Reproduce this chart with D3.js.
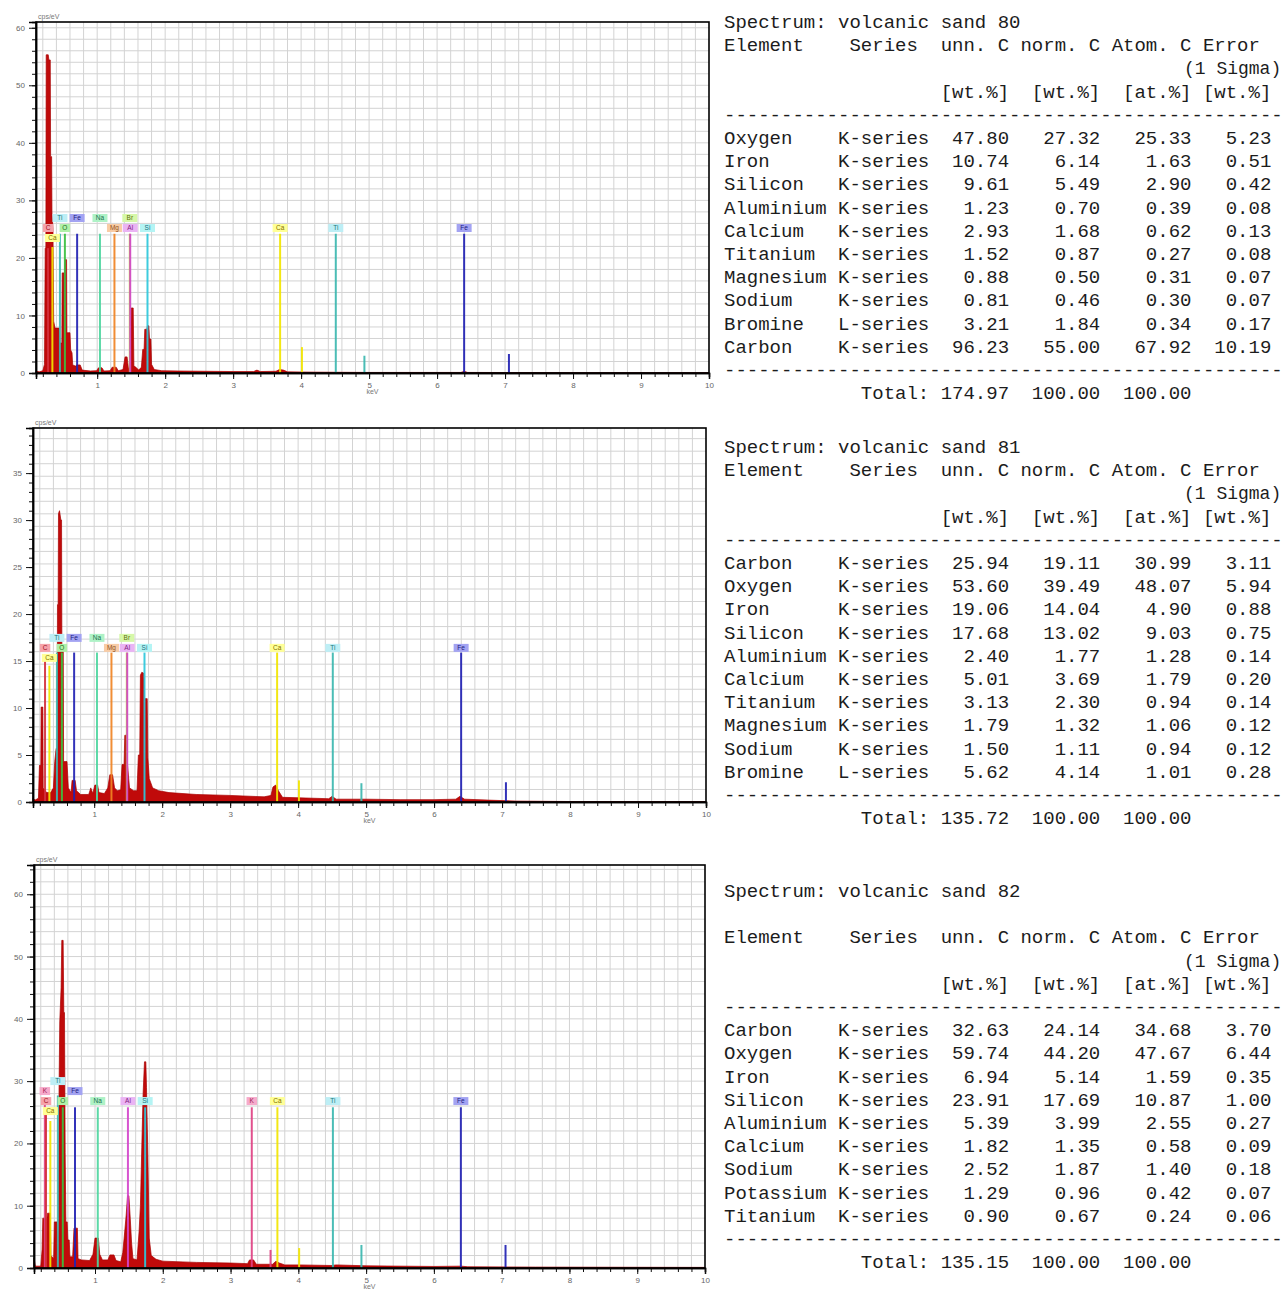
<!DOCTYPE html>
<html><head><meta charset="utf-8">
<script src="https://cdn.jsdelivr.net/npm/d3@7"></script>
<style>
body{margin:0;background:#fff;}
svg{display:block;}
.mono{font-family:"Courier New","Liberation Mono",monospace;font-size:19px;fill:#1c1c1c;white-space:pre;}
.ax text{font-family:"Liberation Sans",Arial,sans-serif;font-size:8px;fill:#666;}
</style></head>
<body>
<svg id="c" width="1286" height="1290"></svg>
<script>
// ---------------- DATA ----------------
const xTickLabels = [1,2,3,4,5,6,7,8,9,10];
const yTicks80 = [0,10,20,30,40,50,60];
const yTicks81 = [0,5,10,15,20,25,30,35];
const yTicks82 = [0,10,20,30,40,50,60];

// spectra: [keV, cps/eV]
const spectrum80 = [[0.10,0.3],[0.15,0.2],[0.20,0.4],[0.225,1.5],[0.235,21.7],[0.245,21.7],[0.25,55.3],[0.28,55.3],[0.29,54.4],[0.31,54.4],[0.315,37.6],[0.33,37.6],[0.335,27.8],[0.35,25],[0.36,9],[0.38,7.8],[0.44,7.8],[0.45,5.2],[0.48,5.2],[0.485,17.4],[0.52,17.4],[0.525,19.7],[0.55,19.7],[0.555,7.0],[0.60,7.0],[0.61,4.0],[0.63,3.5],[0.64,1.4],[0.68,1.2],[0.70,1.4],[0.75,1.4],[0.78,0.5],[0.90,0.35],[0.99,0.4],[1.02,0.9],[1.07,0.9],[1.10,0.35],[1.19,0.4],[1.22,1.0],[1.28,1.0],[1.31,0.4],[1.38,0.6],[1.41,2.8],[1.44,2.8],[1.46,0.8],[1.49,1.0],[1.50,11.3],[1.53,11.3],[1.54,1.2],[1.57,1.0],[1.61,0.5],[1.65,1.0],[1.67,4.1],[1.69,4.1],[1.70,7.6],[1.73,7.6],[1.74,8.2],[1.76,8.2],[1.77,5.9],[1.79,5.9],[1.80,1.5],[1.84,0.6],[1.95,0.4],[2.2,0.35],[2.6,0.3],[3.0,0.25],[3.30,0.25],[3.35,0.5],[3.40,0.25],[3.63,0.3],[3.68,0.6],[3.74,0.5],[3.80,0.2],[4.2,0.15],[5.0,0.1],[6.35,0.1],[6.40,0.3],[6.45,0.1],[8.0,0.05],[10.0,0.05]];
const spectrum81 = [[0.10,0.4],[0.13,0.2],[0.18,0.4],[0.195,3.9],[0.215,3.9],[0.22,10.1],[0.245,10.1],[0.25,1.5],[0.30,1.0],[0.36,1.0],[0.40,1.5],[0.42,4.3],[0.44,5.7],[0.455,5.7],[0.46,21],[0.47,21],[0.475,30.7],[0.49,31],[0.51,30],[0.52,30],[0.525,16.4],[0.545,16.4],[0.55,4.3],[0.60,4.3],[0.62,1.5],[0.66,1.0],[0.675,2.3],[0.72,2.3],[0.74,1.2],[0.80,0.8],[0.92,0.8],[0.95,1.5],[0.98,0.9],[1.01,1.8],[1.05,1.8],[1.07,1.0],[1.15,0.9],[1.20,1.5],[1.23,2.9],[1.27,2.9],[1.30,1.5],[1.34,1.2],[1.39,1.3],[1.41,4.0],[1.44,4.0],[1.45,7.1],[1.48,7.1],[1.49,4.0],[1.52,1.5],[1.58,1.2],[1.63,1.2],[1.65,5.0],[1.67,5.0],[1.68,13.5],[1.70,13.8],[1.73,13.7],[1.74,11],[1.78,11],[1.79,4.7],[1.81,2.5],[1.86,1.5],[1.95,1.2],[2.1,1.0],[2.5,0.8],[3.0,0.7],[3.5,0.55],[3.60,0.7],[3.63,1.6],[3.67,1.8],[3.71,1.2],[3.77,0.5],[4.0,0.45],[4.45,0.35],[4.50,0.6],[4.56,0.3],[5.0,0.3],[5.5,0.25],[6.0,0.25],[6.32,0.3],[6.38,0.6],[6.45,0.3],[6.8,0.2],[7.2,0.1],[8,0.05],[10,0.05]];
const spectrum82 = [[0.10,1.6],[0.12,0.3],[0.20,0.3],[0.22,3],[0.23,8],[0.29,8],[0.30,8.8],[0.34,8.8],[0.35,2.0],[0.39,1.5],[0.40,7.4],[0.44,7.4],[0.45,3.0],[0.46,7.4],[0.47,29],[0.48,39.5],[0.50,45],[0.51,52.6],[0.53,52.6],[0.54,41],[0.55,41],[0.56,18.5],[0.57,7.4],[0.59,7.4],[0.60,4.5],[0.62,4.5],[0.63,1.8],[0.67,1.8],[0.69,6.4],[0.74,6.4],[0.75,1.5],[0.80,1.3],[0.92,1.2],[0.97,2.2],[1.00,4.8],[1.05,4.8],[1.07,2.2],[1.11,1.3],[1.19,1.3],[1.22,2.1],[1.28,2.1],[1.31,1.2],[1.38,1.0],[1.41,2.5],[1.43,4.8],[1.46,8.5],[1.48,11.6],[1.50,11.6],[1.52,8],[1.54,4.0],[1.56,1.5],[1.62,1.3],[1.65,5.8],[1.67,10],[1.69,19.3],[1.71,28],[1.73,33.1],[1.75,33.1],[1.76,29],[1.78,18],[1.80,4.8],[1.83,2.0],[1.90,1.4],[2.0,1.1],[2.5,0.9],[3.0,0.8],[3.25,0.7],[3.28,1.3],[3.34,1.3],[3.38,0.6],[3.62,0.6],[3.67,1.1],[3.72,0.8],[3.80,0.5],[4.0,0.5],[4.5,0.4],[4.55,0.5],[5.0,0.35],[6.0,0.25],[6.40,0.3],[6.5,0.2],[7.5,0.15],[10,0.1]];

// element marker lines: [element, keV, height cps/eV]
const lines80 = [["C",0.277,21.7],["Ca",0.341,21.9],["Ti",0.452,24.2],["O",0.525,24.2],["Fe",0.705,24.2],["Na",1.041,24.2],["Mg",1.254,24.2],["Br",1.480,24.2],["Al",1.486,24.2],["Si",1.740,24.2],["Ca",3.691,24.2],["Ca",4.012,4.5],["Ti",4.510,24.2],["Ti",4.931,3.0],["Fe",6.398,24.2],["Fe",7.057,3.3]];
const lines81 = [["C",0.277,15.1],["Ca",0.341,14.5],["Ti",0.452,15.9],["O",0.525,15.9],["Fe",0.705,15.9],["Na",1.041,15.9],["Mg",1.254,15.9],["Br",1.480,15.9],["Al",1.486,15.9],["Si",1.740,15.9],["Ca",3.691,15.9],["Ca",4.012,2.3],["Ti",4.510,15.9],["Ti",4.931,2.0],["Fe",6.398,15.9],["Fe",7.057,2.1]];
const lines82 = [["K",0.260,27.4],["C",0.277,24.6],["Ca",0.341,23.6],["Ti",0.452,27.7],["O",0.525,25.8],["Fe",0.705,25.8],["Na",1.041,25.8],["Al",1.486,25.8],["Si",1.740,25.8],["K",3.313,25.8],["K",3.590,2.9],["Ca",3.691,25.8],["Ca",4.012,3.2],["Ti",4.510,25.8],["Ti",4.931,3.7],["Fe",6.398,25.8],["Fe",7.057,3.7]];

// element labels: [element, keV, stack tier]
const labels80 = [["C",0.277,0],["Ca",0.341,-1],["Ti",0.452,1],["O",0.525,0],["Fe",0.705,1],["Na",1.041,1],["Mg",1.254,0],["Br",1.480,1],["Al",1.486,0],["Si",1.740,0],["Ca",3.691,0],["Ti",4.510,0],["Fe",6.398,0]];
const labels81 = [["C",0.277,0],["Ca",0.341,-1],["Ti",0.452,1],["O",0.525,0],["Fe",0.705,1],["Na",1.041,1],["Mg",1.254,0],["Br",1.480,1],["Al",1.486,0],["Si",1.740,0],["Ca",3.691,0],["Ti",4.510,0],["Fe",6.398,0]];
const labels82 = [["K",0.260,1],["C",0.277,0],["Ca",0.341,-1],["Ti",0.452,2],["O",0.525,0],["Fe",0.705,1],["Na",1.041,0],["Al",1.486,0],["Si",1.740,0],["K",3.313,0],["Ca",3.691,0],["Ti",4.510,0],["Fe",6.398,0]];

// quantification tables
const spectrumNames = ["volcanic sand 80","volcanic sand 81","volcanic sand 82"];
const elements80 = ["Oxygen","Iron","Silicon","Aluminium","Calcium","Titanium","Magnesium","Sodium","Bromine","Carbon"];
const series80 = ["K-series","K-series","K-series","K-series","K-series","K-series","K-series","K-series","L-series","K-series"];
const unn80 = [47.80,10.74,9.61,1.23,2.93,1.52,0.88,0.81,3.21,96.23];
const norm80 = [27.32,6.14,5.49,0.70,1.68,0.87,0.50,0.46,1.84,55.00];
const atom80 = [25.33,1.63,2.90,0.39,0.62,0.27,0.31,0.30,0.34,67.92];
const err80 = [5.23,0.51,0.42,0.08,0.13,0.08,0.07,0.07,0.17,10.19];
const total80 = [174.97,100.00,100.00];

const elements81 = ["Carbon","Oxygen","Iron","Silicon","Aluminium","Calcium","Titanium","Magnesium","Sodium","Bromine"];
const series81 = ["K-series","K-series","K-series","K-series","K-series","K-series","K-series","K-series","K-series","L-series"];
const unn81 = [25.94,53.60,19.06,17.68,2.40,5.01,3.13,1.79,1.50,5.62];
const norm81 = [19.11,39.49,14.04,13.02,1.77,3.69,2.30,1.32,1.11,4.14];
const atom81 = [30.99,48.07,4.90,9.03,1.28,1.79,0.94,1.06,0.94,1.01];
const err81 = [3.11,5.94,0.88,0.75,0.14,0.20,0.14,0.12,0.12,0.28];
const total81 = [135.72,100.00,100.00];

const elements82 = ["Carbon","Oxygen","Iron","Silicon","Aluminium","Calcium","Sodium","Potassium","Titanium"];
const series82 = ["K-series","K-series","K-series","K-series","K-series","K-series","K-series","K-series","K-series"];
const unn82 = [32.63,59.74,6.94,23.91,5.39,1.82,2.52,1.29,0.90];
const norm82 = [24.14,44.20,5.14,17.69,3.99,1.35,1.87,0.96,0.67];
const atom82 = [34.68,47.67,1.59,10.87,2.55,0.58,1.40,0.42,0.24];
const err82 = [3.70,6.44,0.35,1.00,0.27,0.09,0.18,0.07,0.06];
const total82 = [135.15,100.00,100.00];

// ---------------- STYLE ----------------
const elColor = {
  C:  {box:"#f5a3ab", line:"#d4303c", txt:"#a01020"},
  O:  {box:"#b0f0a8", line:"#3cc040", txt:"#207020"},
  Ca: {box:"#ffff96", line:"#f2e600", txt:"#807000"},
  Ti: {box:"#bdeef5", line:"#3cb8b0", txt:"#207878"},
  Fe: {box:"#a3a3f2", line:"#2222b4", txt:"#202080"},
  Na: {box:"#aef2c6", line:"#4fd6a0", txt:"#207050"},
  Mg: {box:"#f8cca6", line:"#f08424", txt:"#905020"},
  Br: {box:"#d6f8a8", line:"#b6dc28", txt:"#607010"},
  Al: {box:"#eab4f4", line:"#d446cc", txt:"#802080"},
  Si: {box:"#b4f4f4", line:"#2ec8dc", txt:"#207080"},
  K:  {box:"#f6aacb", line:"#e04284", txt:"#a02050"}
};

const svg = d3.select("#c");

const panels = [
  {spec:spectrum80, lines:lines80, labels:labels80, yTicks:yTicks80, yMax:61,   yMinor:2, yGrid:2,   x0:36, x1:709, yTop:22,  yBot:373,  level:25.2},
  {spec:spectrum81, lines:lines81, labels:labels81, yTicks:yTicks81, yMax:39.8, yMinor:1, yGrid:4/3, x0:33, x1:706, yTop:428, yBot:802,  level:16.4},
  {spec:spectrum82, lines:lines82, labels:labels82, yTicks:yTicks82, yMax:64.7, yMinor:2, yGrid:2,   x0:34, x1:705, yTop:865, yBot:1268, level:26.8}
];

function drawPanel(p){
  const g = svg.append("g");
  const x = d3.scaleLinear().domain([0.1,10]).range([p.x0,p.x1]);
  const y = d3.scaleLinear().domain([0,p.yMax]).range([p.yBot,p.yTop]);

  // grid
  g.append("g").selectAll("line").data(d3.range(0.2,9.99,0.2)).join("line")
    .attr("x1",d=>x(d)).attr("x2",d=>x(d)).attr("y1",p.yTop).attr("y2",p.yBot)
    .attr("stroke","#d3d3d3").attr("stroke-width",1);
  g.append("g").selectAll("line").data(d3.range(p.yGrid,p.yMax-0.01,p.yGrid)).join("line")
    .attr("x1",p.x0).attr("x2",p.x1).attr("y1",d=>y(d)).attr("y2",d=>y(d))
    .attr("stroke","#d3d3d3").attr("stroke-width",1);

  // spectrum
  const area = d3.area().x(d=>x(d[0])).y0(y(0)).y1(d=>y(d[1]));
  g.append("path").datum(p.spec).attr("d",area)
    .attr("fill","#c00a0a").attr("stroke","#a80000").attr("stroke-width",0.7);

  // marker lines
  g.append("g").selectAll("line").data(p.lines).join("line")
    .attr("x1",d=>x(d[1])).attr("x2",d=>x(d[1]))
    .attr("y1",y(0)).attr("y2",d=>y(d[2]))
    .attr("stroke",d=>elColor[d[0]].line).attr("stroke-width",2).attr("opacity",0.92);

  // labels
  const lg = g.append("g").selectAll("g").data(p.labels).join("g")
    .attr("transform",d=>`translate(${x(d[1])},${y(p.level)-d[2]*10})`);
  lg.append("rect")
    .attr("x",d=>-(5+d[0].length*4.5)/2-0.5).attr("y",-4)
    .attr("width",d=>6+d[0].length*4.5).attr("height",8)
    .attr("fill",d=>elColor[d[0]].box);
  lg.append("text").text(d=>d[0])
    .attr("text-anchor","middle").attr("y",2.3)
    .attr("font-family","Liberation Sans, Arial, sans-serif").attr("font-size",6.5)
    .attr("fill",d=>elColor[d[0]].txt);

  // axes
  const xa = g.append("g").attr("class","ax").attr("transform",`translate(0,${p.yBot})`);
  xa.call(d3.axisBottom(x).tickValues(d3.range(0.2,10.01,0.2)).tickSize(4).tickFormat(""));
  const xb = g.append("g").attr("class","ax").attr("transform",`translate(0,${p.yBot})`);
  xb.call(d3.axisBottom(x).tickValues(xTickLabels).tickSize(6).tickPadding(3).tickFormat(d3.format("d")));
  const ya = g.append("g").attr("class","ax").attr("transform",`translate(${p.x0},0)`);
  ya.call(d3.axisLeft(y).tickValues(d3.range(0,p.yMax,p.yMinor)).tickSize(4).tickFormat(""));
  const yb = g.append("g").attr("class","ax").attr("transform",`translate(${p.x0},0)`);
  yb.call(d3.axisLeft(y).tickValues(p.yTicks).tickSize(7).tickPadding(4).tickFormat(d3.format("d")));
  g.selectAll(".ax path.domain").attr("stroke","#000").attr("stroke-width",1.5);
  g.selectAll(".ax .tick line").attr("stroke","#111");

  // frame
  g.append("rect").attr("x",p.x0).attr("y",p.yTop).attr("width",p.x1-p.x0).attr("height",p.yBot-p.yTop)
    .attr("fill","none").attr("stroke","#000").attr("stroke-width",1.6);

  // axis titles
  g.append("text").text("cps/eV").attr("x",p.x0+2).attr("y",p.yTop-3)
    .attr("font-family","Liberation Sans, Arial, sans-serif").attr("font-size",7).attr("fill","#777");
  g.append("text").text("keV").attr("x",(p.x0+p.x1)/2).attr("y",p.yBot+21).attr("text-anchor","middle")
    .attr("font-family","Liberation Sans, Arial, sans-serif").attr("font-size",7).attr("fill","#777");
}
panels.forEach(drawPanel);

// ---------------- TABLES ----------------
const tables = [
  {name:spectrumNames[0], el:elements80, se:series80, u:unn80, n:norm80, a:atom80, e:err80, t:total80, top:22,  blank:false},
  {name:spectrumNames[1], el:elements81, se:series81, u:unn81, n:norm81, a:atom81, e:err81, t:total81, top:447, blank:false},
  {name:spectrumNames[2], el:elements82, se:series82, u:unn82, n:norm82, a:atom82, e:err82, t:total82, top:891, blank:true}
];
const f = (v,w)=>v.toFixed(2).padStart(w);
function drawTable(t){
  const L = [];
  L.push("Spectrum: "+t.name);
  if(t.blank) L.push("");
  L.push("Element    Series  unn. C norm. C Atom. C Error");
  L.push("SIGMA");
  L.push(" ".repeat(19)+"[wt.%]  [wt.%]  [at.%] [wt.%]");
  L.push("-".repeat(49));
  t.el.forEach((e,i)=>L.push(e.padEnd(10)+t.se[i]+f(t.u[i],7)+f(t.n[i],8)+f(t.a[i],8)+f(t.e[i],7)));
  L.push("-".repeat(49));
  L.push(" ".repeat(12)+"Total: "+f(t.t[0],6)+f(t.t[1],8)+f(t.t[2],8));
  const lh = 23.2;
  L.forEach((s,i)=>{
    const yy = t.top + i*lh + 6;
    if(s==="SIGMA"){
      svg.append("text").attr("class","mono").attr("x",1184).attr("y",yy)
        .style("font-size","18px").text("(1 Sigma)");
    } else if(s.length){
      svg.append("text").attr("class","mono").attr("x",724).attr("y",yy).attr("xml:space","preserve").text(s);
    }
  });
}
tables.forEach(drawTable);
</script>
</body></html>
